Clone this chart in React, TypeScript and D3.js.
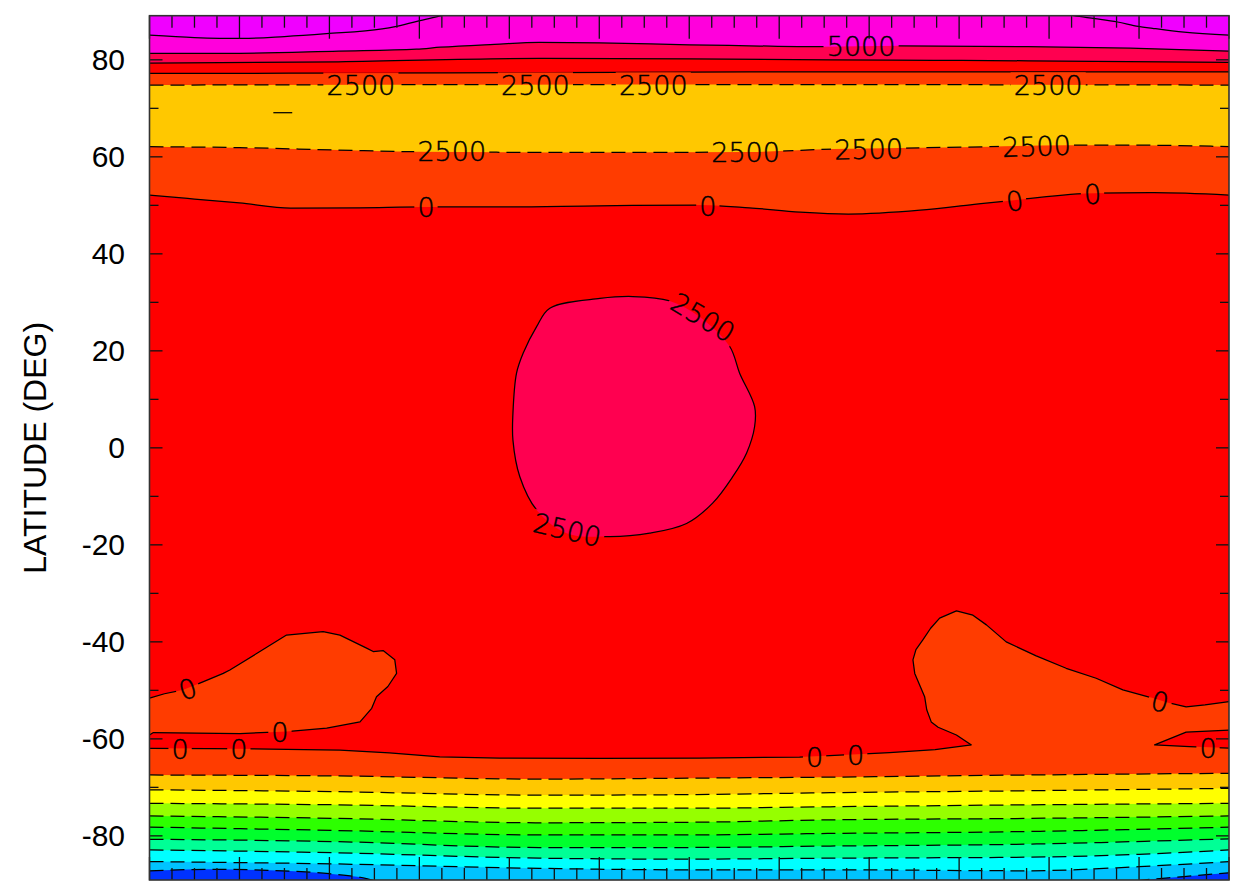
import React from "react";
import * as d3 from "d3";

type Pt = [number, number];

// ---------- axes ----------
const LON_DOMAIN: [number, number] = [0, 360];
const LAT_DOMAIN: [number, number] = [-89.1, 89.1];
const LAT_TICK_LABELS = [-80, -60, -40, -20, 0, 20, 40, 60, 80];
const LAT_MINOR_TICKS = [-70, -50, -30, -10, 10, 30, 50, 70];
const LON_MAJOR_STEP = 30;
const LON_MINOR_STEP = 7.5;
const Y_TITLE = "LATITUDE (DEG)";

// ---------- contour lines: [longitude, latitude] ----------
// northern high latitudes
const c7500West: Pt[] = [[0, 85.1], [15, 84.6], [31, 84.4], [45, 84.8], [59, 85.4], [77.6, 86.4], [81.5, 86.8], [89.5, 88.0], [97.4, 89.1], [102, 89.8]];
const c7500East: Pt[] = [[303, 89.8], [308.3, 89.1], [315.3, 88.5], [322.8, 87.8], [329.8, 86.9], [334.5, 86.5], [345, 85.7], [360, 85.1]];
const c5000N: Pt[] = [[0, 81.35], [30, 81.35], [63, 81.8], [89, 82.2], [97, 82.6], [115, 83.2], [130, 83.6], [150, 83.5], [180, 83.1], [200, 82.9], [223, 82.7], [250, 82.9], [293, 82.7], [327, 82.4], [360, 81.8]];
const c2500N: Pt[] = [[0, 79.3], [63, 79.6], [130, 80.3], [180, 80.2], [227, 80.0], [293, 79.8], [360, 79.5]];
const c0N1: Pt[] = [[0, 77.2], [100, 77.3], [200, 77.5], [360, 77.5]];
const cm2500N1: Pt[] = [[0, 74.8], [180, 74.9], [360, 74.8]];
const cm5000Speck: Pt[] = [[41.3, 69.1], [47.6, 69.1]];
const cm2500N2: Pt[] = [[0, 62.1], [30, 61.9], [63, 61.4], [89, 61.05], [150, 60.9], [200, 61.0], [228, 61.6], [250, 61.8], [280, 62.1], [305, 62.4], [330, 62.4], [360, 62.1]];
const c0N2: Pt[] = [[0, 52.1], [15, 51.3], [30, 50.5], [47, 49.45], [70, 49.5], [92, 49.66], [117, 49.66], [150, 49.9], [183, 50.07], [200, 49.5], [217, 48.6], [233, 48.2], [257, 49.0], [275, 50.2], [289, 51.1], [315, 52.5], [335, 52.6], [360, 52.1]];

// equatorial closed 2500 contour
const c2500Blob: Pt[] = [[133.5, 28.8], [150.2, 30.8], [161.2, 31.2], [173.5, 30.3], [183.5, 27.0], [193.5, 20.9], [196.8, 15.4], [201.8, 8.5], [201.8, 4.4], [199.1, -1.1], [194.5, -5.95], [187.8, -11.4], [179.1, -15.6], [166.8, -17.6], [153.5, -18.3], [139.1, -17.6], [129.1, -12.8], [123.5, -5.95], [121.2, 1.6], [121.2, 7.1], [122.4, 15.4], [124.6, 19.5], [129.1, 25.0]];

// southern 0 contour (one loop that wraps around the longitude seam)
const c0SouthMain: Pt[] = [[0, -61.95], [20, -62.0], [40, -62.1], [63.5, -62.3], [80, -62.9], [96.8, -63.7], [116.8, -63.95], [150, -64.0], [183.5, -63.95], [216.8, -63.75], [246.8, -62.85], [262, -62.2], [274.1, -61.25]];
const c0SEBlob: Pt[] = [[274.1, -61.25], [269.1, -59.2], [263, -57.6], [260.7, -56.5], [259.2, -54.0], [258.5, -51.3], [255.2, -46.5], [254.6, -43.7], [255.6, -41.6], [257.9, -39.6], [260.5, -37.2], [263.5, -35.1], [269.1, -33.6], [274.6, -34.5], [279.1, -36.5], [285.7, -40.0], [295.7, -42.9], [305.7, -45.45], [315.7, -47.5], [324.6, -49.9], [334.6, -51.6], [340, -52.6], [345.7, -53.4], [352, -53.0], [360, -52.3]];
const c0SWBlob: Pt[] = [[0, -51.6], [5, -50.7], [11.3, -49.9], [18, -48.2], [24.6, -46.5], [26.8, -45.8], [36, -42.3], [45.7, -38.6], [57.9, -37.9], [63.5, -38.6], [72.4, -41.3], [74.6, -42.0], [77.9, -41.8], [81.8, -43.7], [82.4, -46.5], [79.5, -49.2], [75.7, -51.3], [74.1, -53.7], [70.2, -56.5], [59.1, -57.8], [45.7, -58.5], [30.2, -58.9], [1.3, -58.7], [0, -59.2]];
const c0SEWedge: Pt[] = [[360, -58.2], [345.7, -58.6], [335.2, -61.25], [346.8, -61.6], [360, -61.9]];

// southern negative contours
const cm2500S: Pt[] = [[0, -67.45], [63, -67.65], [130, -68.3], [180, -68.1], [227, -67.9], [293, -67.45], [360, -67.1]];
const cm5000S: Pt[] = [[0, -70.5], [63, -70.9], [130, -71.6], [180, -71.5], [227, -71.1], [293, -70.7], [360, -70.2]];
const cm7500S: Pt[] = [[0, -73.3], [63, -73.6], [130, -74.3], [180, -74.3], [227, -74.0], [293, -73.6], [360, -73.3]];
const cm10000S: Pt[] = [[0, -75.9], [63, -76.4], [130, -77.3], [180, -77.2], [227, -76.7], [293, -76.4], [360, -75.9]];
const cm12500S: Pt[] = [[0, -78.2], [63, -78.9], [130, -79.8], [180, -79.8], [227, -79.5], [293, -79.1], [360, -78.2]];
const cm15000S: Pt[] = [[0, -80.7], [63, -81.2], [130, -82.4], [180, -82.4], [227, -82.1], [293, -81.7], [360, -80.6]];
const cm17500S: Pt[] = [[0, -82.9], [63, -83.5], [130, -84.6], [180, -84.8], [227, -84.6], [293, -84.4], [330, -83.8], [360, -82.9]];
const cm20000S: Pt[] = [[0, -85.3], [63, -85.8], [130, -86.7], [180, -87.0], [227, -87.0], [293, -87.2], [330, -86.35], [360, -85.3]];
const cm22500S: Pt[] = [[0, -87.2], [20, -86.9], [40, -87.1], [60, -87.8], [70, -88.5], [80, -89.7], [320, -89.7], [335, -88.9], [345, -88.4], [360, -87.6]];

// contour labels
const LABEL_TEXT = ["5000", "2500", "2500", "2500", "2500", "2500", "2500", "2500", "2500", "0", "0", "0", "0", "2500", "2500", "0", "0", "0", "0", "0", "0", "0", "0"];
const LABEL_LON = [237.3, 70.5, 128.7, 168, 299.7, 100.8, 198.8, 239.8, 295.8, 92.2, 186.2, 288.5, 314.5, 184.6, 139.3, 12.7, 43.5, 10.2, 29.8, 221.8, 235.5, 337, 353];
const LABEL_LAT = [82.9, 74.7, 74.7, 74.7, 74.7, 61.2, 61.0, 61.6, 62.2, 49.65, 49.9, 50.9, 52.3, 26.9, -16.9, -49.7, -58.7, -62.1, -62.1, -63.75, -63.3, -52.3, -61.9];
const LABEL_ANGLE = [0, 0, 0, 0, 0, 0, 0, -1, -2, 0, 0, -8, -3, 31, 13, -19, 0, 0, 0, 0, 0, 14, 0];

// ---------- colours ----------
const C_PURPLE = "#F000FF";
const C_MAGENTA = "#FF00DC";
const C_CRIMSON = "#FF0050";
const C_RED = "#FF0000";
const C_ORANGERED = "#FF3C00";
const C_AMBER = "#FFC800";
const C_YELLOW = "#FFFF00";
const C_YGREEN = "#96FF00";
const C_GREEN1 = "#2DFF00";
const C_GREEN2 = "#00FF2D";
const C_SPRING = "#00FF96";
const C_CYAN = "#00FFFF";
const C_SKY = "#00C3FF";
const C_BLUE = "#0032FF";

export default function App() {
  const W = 1233, H = 888;
  const L = 149.5, R = 1229, T = 15.7, B = 880;
  const x = d3.scaleLinear().domain(LON_DOMAIN).range([L, R]);
  const y = d3.scaleLinear().domain(LAT_DOMAIN).range([B, T]);

  const lineMono = d3.line<Pt>().x(d => x(d[0])).y(d => y(d[1])).curve(d3.curveMonotoneX);
  const lineLin = d3.line<Pt>().x(d => x(d[0])).y(d => y(d[1]));
  const blobLine = d3.line<Pt>().x(d => x(d[0])).y(d => y(d[1])).curve(d3.curveCatmullRomClosed.alpha(0.5));
  const areaUp = d3.area<Pt>().x(d => x(d[0])).y0(d => y(d[1])).y1(T - 20).curve(d3.curveMonotoneX);
  const areaDown = d3.area<Pt>().x(d => x(d[0])).y0(d => y(d[1])).y1(B + 20).curve(d3.curveMonotoneX);

  const northBands: [Pt[], string][] = [
    [c0N2, C_ORANGERED], [cm2500N2, C_AMBER], [cm2500N1, C_ORANGERED], [c0N1, C_RED],
    [c2500N, C_CRIMSON], [c5000N, C_MAGENTA], [c7500West, C_PURPLE], [c7500East, C_PURPLE],
  ];
  const southBands: [Pt[], string][] = [
    [cm2500S, C_AMBER], [cm5000S, C_YELLOW], [cm7500S, C_YGREEN], [cm10000S, C_GREEN1],
    [cm12500S, C_GREEN2], [cm15000S, C_SPRING], [cm17500S, C_CYAN], [cm20000S, C_SKY], [cm22500S, C_BLUE],
  ];

  const southPoly: Pt[] = [...c0SouthMain, ...c0SEBlob.slice(1), ...c0SEWedge, [360, -95], [0, -95]];
  const swPoly: Pt[] = [...c0SWBlob];

  const solidMono = [c7500West, c7500East, c5000N, c2500N, c0N1, c0N2];
  const dashedMono = [cm2500N1, cm2500N2, cm2500S, cm5000S, cm7500S, cm10000S, cm12500S, cm15000S, cm17500S, cm20000S, cm22500S];
  const solidLin = [c0SouthMain, c0SEBlob, c0SWBlob, c0SEWedge];

  const fs = 27;
  const labels = LABEL_TEXT.map((t, i) => ({ t, cx: x(LABEL_LON[i]), cy: y(LABEL_LAT[i]), a: LABEL_ANGLE[i] }));

  const xMajor = d3.range(LON_DOMAIN[0], LON_DOMAIN[1] + 0.01, LON_MAJOR_STEP);
  const xMinor = d3.range(LON_DOMAIN[0], LON_DOMAIN[1] + 0.01, LON_MINOR_STEP).filter(v => v % LON_MAJOR_STEP !== 0);

  const axisFont = "'Liberation Sans', Arial, sans-serif";

  return (
    <svg width={W} height={H} style={{ position: "absolute", left: 0, top: 0, background: "#fff" }}>
      <defs>
        <clipPath id="plotClip">
          <rect x={L} y={T} width={R - L} height={B - T} />
        </clipPath>
        <mask id="lblMask" maskUnits="userSpaceOnUse" x={0} y={0} width={W} height={H}>
          <rect x={0} y={0} width={W} height={H} fill="white" />
          {labels.map((l, i) => {
            const w = l.t.length * 0.64 * fs + 6;
            const h = fs * 0.98;
            return (
              <rect key={i} x={-w / 2} y={-h / 2} width={w} height={h} fill="black"
                transform={`translate(${l.cx},${l.cy}) rotate(${l.a})`} />
            );
          })}
        </mask>
      </defs>

      <g clipPath="url(#plotClip)">
        <rect x={L} y={T} width={R - L} height={B - T} fill={C_RED} />
        {northBands.map(([d, c], i) => (
          <path key={"n" + i} d={areaUp(d) || ""} fill={c} />
        ))}
        <path d={(blobLine(c2500Blob) || "")} fill={C_CRIMSON} />
        <path d={(lineLin(southPoly) || "") + "Z"} fill={C_ORANGERED} />
        <path d={(lineLin(swPoly) || "") + "Z"} fill={C_ORANGERED} />
        {southBands.map(([d, c], i) => (
          <path key={"s" + i} d={areaDown(d) || ""} fill={c} />
        ))}

        <g mask="url(#lblMask)" fill="none" stroke="#000" strokeWidth={1.25}>
          {solidMono.map((d, i) => <path key={"sm" + i} d={lineMono(d) || ""} />)}
          {dashedMono.map((d, i) => <path key={"dm" + i} d={lineMono(d) || ""} strokeDasharray="14 7" />)}
          {solidLin.map((d, i) => <path key={"sl" + i} d={lineLin(d) || ""} strokeLinejoin="round" />)}
          <path d={blobLine(c2500Blob) || ""} />
          <path d={lineLin(cm5000Speck) || ""} />
        </g>

        {labels.map((l, i) => (
          <text key={"l" + i} x={0} y={0} dy="0.36em" textAnchor="middle"
            transform={`translate(${l.cx},${l.cy}) rotate(${l.a})`}
            fontFamily="'DejaVu Sans', sans-serif" fontWeight={200} fontSize={fs}
            fill="#000" stroke="#000" strokeWidth={0.45}>
            {l.t}
          </text>
        ))}
      </g>

      {/* ticks */}
      <g stroke="#111" strokeWidth={1.3}>
        {xMajor.map(v => (
          <g key={"xM" + v}>
            <line x1={x(v)} x2={x(v)} y1={T} y2={T + 23} />
            <line x1={x(v)} x2={x(v)} y1={B} y2={B - 23} />
          </g>
        ))}
        {xMinor.map(v => (
          <g key={"xm" + v}>
            <line x1={x(v)} x2={x(v)} y1={T} y2={T + 12} />
            <line x1={x(v)} x2={x(v)} y1={B} y2={B - 12} />
          </g>
        ))}
        {LAT_TICK_LABELS.map(v => (
          <g key={"yM" + v}>
            <line x1={L} x2={L + 13} y1={y(v)} y2={y(v)} />
            <line x1={R} x2={R - 13} y1={y(v)} y2={y(v)} />
          </g>
        ))}
        {LAT_MINOR_TICKS.map(v => (
          <g key={"ym" + v}>
            <line x1={L} x2={L + 9} y1={y(v)} y2={y(v)} />
            <line x1={R} x2={R - 9} y1={y(v)} y2={y(v)} />
          </g>
        ))}
      </g>

      <rect x={L} y={T} width={R - L} height={B - T} fill="none" stroke="#333" strokeWidth={1.6} />

      {LAT_TICK_LABELS.map(v => (
        <text key={"yl" + v} x={125} y={y(v)} dy="0.35em" textAnchor="end"
          fontFamily={axisFont} fontSize={30} fill="#000">
          {v}
        </text>
      ))}
      <text transform={`translate(35,${(T + B) / 2}) rotate(-90)`} dy="0.35em" textAnchor="middle"
        fontFamily={axisFont} fontSize={32} fill="#000">
        {Y_TITLE}
      </text>
    </svg>
  );
}
